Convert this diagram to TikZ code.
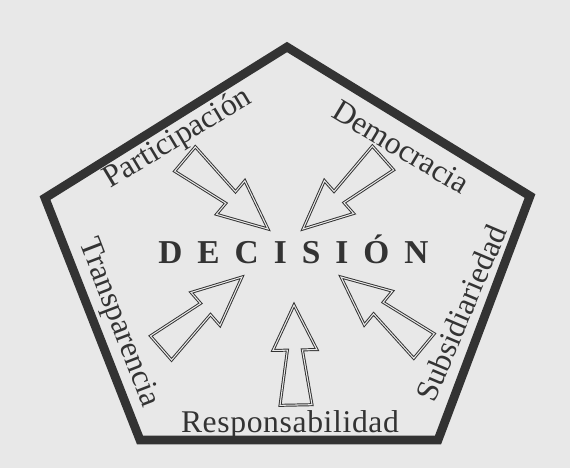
\documentclass[tikz,border=0pt]{standalone}
\usepackage{fontspec}
\setmainfont{Liberation Serif}
\usetikzlibrary{calc}

\definecolor{paper}{gray}{0.91}
\definecolor{ink}{gray}{0.2}

\tikzset{
  borde/.style={draw=ink, line width=5pt, line join=miter},
  lab/.style={font=\fontsize{18}{20}\selectfont, text=ink, inner sep=0pt},
  flechaline/.style={draw=ink, line width=0.55pt, double=paper, double distance=0.6pt, fill=paper, line join=miter}
}

\newcommand\flecha[2]{%
  \path (#1) -- (#2) coordinate[pos=0.55] (hb);
  \draw[flechaline] ($(#1)!0.32cm!90:(#2)$) -- ($(hb)!0.15cm!90:(#2)$) -- ($(hb)!0.44cm!90:(#2)$)
    -- (#2) -- ($(hb)!0.44cm!-90:(#2)$) -- ($(hb)!0.15cm!-90:(#2)$) -- ($(#1)!0.32cm!-90:(#2)$) -- cycle;
}

\begin{document}
\begin{tikzpicture}[x=0.02cm, y=-0.02cm]
\fill[paper] (0,0) rectangle (570,468);
\useasboundingbox (0,0) rectangle (570,468);

\draw[borde] (287,47) -- (530,196) -- (438,440) -- (140,440) -- (45,198) -- cycle;

\node[lab, anchor=base west, font=\fontsize{19}{22}\selectfont\bfseries\addfontfeature{LetterSpace=45}] (dec) at (158,263) {DECISIÓN};

\node[lab, rotate=31] (part) at (178,139) {Participación};
\node[lab, rotate=-31] (demo) at (401,147) {Democracia};
\node[lab, rotate=-69] (trans) at (118,323) {Transparencia};
\node[lab, rotate=67] (subs) at (461,313) {Subsidiariedad};
\node[lab, anchor=base, font=\fontsize{18}{20}\selectfont\addfontfeature{LetterSpace=2}] (resp) at (290,432) {Responsabilidad};

\coordinate (c1) at (185,159);  \coordinate (d1) at (268,229);
\coordinate (c2) at (383,158);  \coordinate (d2) at (303,229);
\coordinate (c3) at (161,348);  \coordinate (d3) at (242,277);
\coordinate (c4) at (424,346);  \coordinate (d4) at (341,277);
\coordinate (c5) at (296,405);  \coordinate (d5) at (294,305);

\flecha{c1}{d1}
\flecha{c2}{d2}
\flecha{c3}{d3}
\flecha{c4}{d4}
\flecha{c5}{d5}

\end{tikzpicture}
\end{document}
